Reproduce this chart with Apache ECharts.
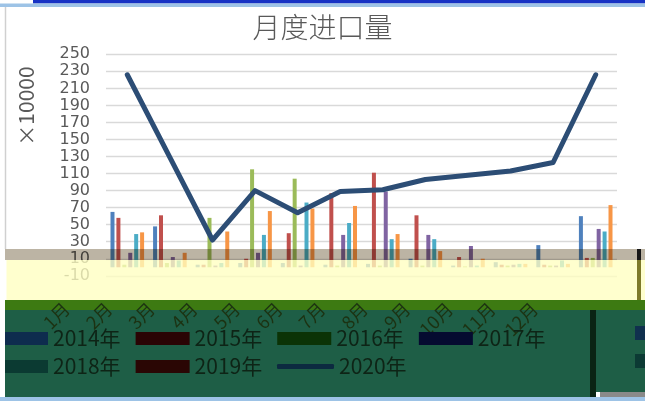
<!DOCTYPE html>
<html>
<head>
<meta charset="utf-8">
<script src="https://cdn.jsdelivr.net/npm/echarts@6/dist/echarts.min.js"></script>
<style>
  html, body { margin: 0; padding: 0; background: #fff; }
  #chart { width: 645px; height: 401px; }
</style>
</head>
<body>
<div id="chart"></div>
<script>
// Monthly import volume (unit: 10,000)
const months = ['1月', '2月', '3月', '4月', '5月', '6月', '7月', '8月', '9月', '10月', '11月', '12月'];
const seriesNames = ['2014年', '2015年', '2016年', '2017年', '2018年', '2019年', '2020年'];

const imports2014 = [65, 48, 3, 5, 5, 3, 4, 10, 2, 6, 26, 60];
const imports2015 = [58, 61, 3, 10, 40, 87, 111, 61, 12, 3, 3, 11];
const imports2016 = [3, 5, 58, 115, 104, 2, 2, 2, 1, 2, 2, 11];
const imports2017 = [17, 12, 2, 17, 2, 38, 89, 38, 25, 3, 2, 45];
const imports2018 = [39, 8, 5, 38, 76, 52, 33, 33, 2, 4, 8, 42];
const imports2019 = [41, 17, 42, 66, 69, 72, 39, 19, 10, 4, 4, 73];
const imports2020 = [226, 129, 32, 90, 64, 89, 91, 103, 108, 113, 123, 226];

const yMin = -10;
const yMax = 250;
const yStep = 20;

const barColors = ['#4F81BD', '#C0504D', '#9BBB59', '#8064A2', '#4BACC6', '#F79646'];
const lineColor = '#2C4D75';
const legendSwatch = ['#0E2C4E', '#2A0404', '#0B3306', '#050B30', '#0B3A32', '#2A0604', '#0C2A40'];

const cjk = "'Noto Sans CJK SC', 'Noto Sans', sans-serif";
const barData = [imports2014, imports2015, imports2016, imports2017, imports2018, imports2019];

const chart = echarts.init(document.getElementById('chart'), null, { renderer: 'canvas' });

const barSeries = barData.map((d, i) => ({
  name: seriesNames[i],
  type: 'bar',
  xAxisIndex: 0,
  yAxisIndex: 0,
  data: d,
  barWidth: 4,
  barGap: '48%',
  itemStyle: { color: barColors[i] },
  emphasis: { disabled: true }
}));

const legendItem = (i) => ({ name: seriesNames[i], icon: i < 6 ? 'rect' : 'roundRect', itemStyle: { color: legendSwatch[i] } });

const legendBase = (top, left, idx, w, h) => ({
  top: top,
  left: left,
  orient: 'horizontal',
  itemWidth: w,
  itemHeight: h,
  itemGap: 15,
  selectedMode: false,
  textStyle: { fontSize: 21, color: '#0E2416', fontFamily: cjk },
  data: idx.map(legendItem)
});

const rect = (x, y, w, h, fill, z, extra) => ({
  type: 'rect', z: z, silent: true,
  shape: { x: x, y: y, width: w, height: h },
  style: Object.assign({ fill: fill }, extra || {})
});

chart.setOption({
  animation: false,
  backgroundColor: '#ffffff',
  title: {
    text: '月度进口量',
    left: 'center',
    top: 8,
    textStyle: { fontSize: 28, fontWeight: 300, color: '#595959', fontFamily: cjk }
  },
  legend: [
    legendBase(323, -11, [0, 1, 2, 3], 54, 13),
    legendBase(351, -11, [4, 5], 54, 13),
    legendBase(351, 272, [6], 57, 5)
  ],
  grid: [
    { left: 106, right: 28, top: 54.3, bottom: 125.2, containLabel: false },
    { left: 45, right: 89, top: 54.3, bottom: 125.2, containLabel: false }
  ],
  xAxis: [
    {
      type: 'category', gridIndex: 0, data: months, boundaryGap: true,
      axisLine: { show: false }, axisTick: { show: false }, axisLabel: { show: false }
    },
    {
      type: 'category', gridIndex: 1, data: months, boundaryGap: true,
      axisLine: { show: false }, axisTick: { show: false }, splitLine: { show: false },
      axisLabel: { rotate: 45, margin: 30, fontSize: 18, color: '#1C3212', fontFamily: cjk, interval: 0 }
    }
  ],
  yAxis: [
    {
      type: 'value', gridIndex: 0, min: yMin, max: yMax, interval: yStep,
      axisLine: { show: false }, axisTick: { show: false },
      axisLabel: {
        fontSize: 16, color: '#595959', fontFamily: 'DejaVu Sans', margin: 16,
        hideOverlap: false, showMinLabel: true, showMaxLabel: true
      },
      splitLine: { lineStyle: { color: '#D9D9D9', width: 1.3 } }
    },
    { type: 'value', gridIndex: 1, min: yMin, max: yMax, show: false, splitLine: { show: false } }
  ],
  series: barSeries.concat([{
    name: seriesNames[6],
    type: 'line',
    xAxisIndex: 0,
    yAxisIndex: 0,
    data: imports2020,
    symbol: 'none',
    z: 5,
    lineStyle: { color: lineColor, width: 5, cap: 'round', join: 'round' },
    itemStyle: { color: lineColor },
    emphasis: { disabled: true }
  }]),
  graphic: { elements: [
    // page frame strips
    rect(33, 0, 612, 3.5, '#1732C4', 20),
    rect(0, 3.5, 645, 3.5, '#9DC3E6', 20),
    { type: 'line', z: 20, silent: true, shape: { x1: 5.5, y1: 7, x2: 5.5, y2: 249 }, style: { stroke: '#D0D0D0', lineWidth: 1.5 } },
    // band across the foot of the plot
    rect(5, 249, 640, 11, '#BCB4A4', 3, { blend: 'multiply' }),
    rect(6.5, 260, 638.5, 40, '#FFFFC0', 3, { opacity: 0.78 }),
    rect(637, 249, 4, 11, '#161616', 3),
    rect(637, 260, 4, 40, '#7E7A2A', 3),
    // strip under the category labels and legend panel
    rect(5, 300, 640, 10, '#3D7A12', -1),
    rect(5, 310, 585, 87, '#1E5E46', -1),
    rect(590, 310, 6, 87, '#0A2414', -1),
    rect(596, 310, 49, 82, '#1E5E46', -1),
    rect(635, 326, 10, 14, '#10304E', -1),
    rect(635, 354, 10, 14, '#0C3A34', -1),
    rect(600, 392, 45, 5, '#8A8A8A', -1),
    rect(0, 397, 645, 4, '#9DC3E6', 20),
    rect(0, 300, 5, 97, '#FFFFFF', 20),
    // unit label on the value axis
    {
      type: 'text', z: 6, silent: true, x: 26.5, y: 106, rotation: Math.PI / 2,
      style: { text: '×10000', x: 0, y: 0, fill: '#595959', fontSize: 21, fontFamily: cjk, align: 'center', verticalAlign: 'middle' }
    }
  ] }
});
</script>
</body>
</html>
